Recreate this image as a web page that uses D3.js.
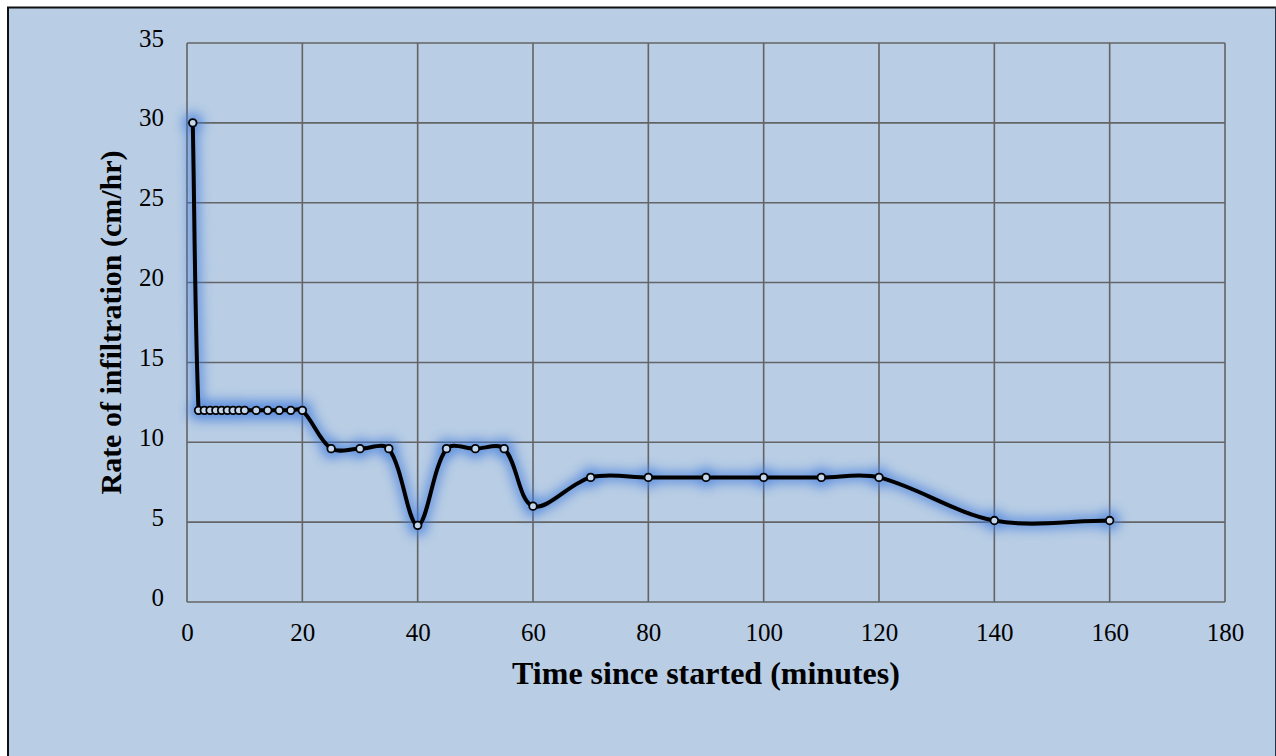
<!DOCTYPE html>
<html>
<head>
<meta charset="utf-8">
<script src="https://cdn.jsdelivr.net/npm/d3@7"></script>
<style>
  html, body { margin: 0; padding: 0; background: #ffffff; }
  svg { display: block; }
</style>
</head>
<body>
<svg id="chart" width="1276" height="756"></svg>
<script>
// Infiltration test readings: elapsed time (minutes) and infiltration rate (cm/hr)
const timeMinutes = [1, 2, 3, 4, 5, 6, 7, 8, 9, 10, 12, 14, 16, 18, 20,
                     25, 30, 35, 40, 45, 50, 55, 60, 70, 80, 90, 100, 110, 120, 140, 160];
const infiltrationRate = [30, 12, 12, 12, 12, 12, 12, 12, 12, 12, 12, 12, 12, 12, 12,
                          9.6, 9.6, 9.6, 4.8, 9.6, 9.6, 9.6, 6, 7.8, 7.8, 7.8, 7.8, 7.8, 7.8, 5.1, 5.1];
const xTicks = [0, 20, 40, 60, 80, 100, 120, 140, 160, 180];
const yTicks = [0, 5, 10, 15, 20, 25, 30, 35];
const xTitle = "Time since started (minutes)";
const yTitle = "Rate of infiltration (cm/hr)";

const data = timeMinutes.map((t, i) => ({ t, r: infiltrationRate[i] }));

const svg = d3.select("#chart");
const W = 1276, H = 756;
const plot = { left: 187, right: 1225, top: 43, bottom: 602 };
const font = "'Liberation Serif', 'Times New Roman', serif";
const bg = "#b9cde4";

// chart area background and frame
svg.append("rect")
  .attr("x", 8).attr("y", 7.5).attr("width", W - 8 + 10).attr("height", H)
  .attr("fill", bg).attr("stroke", "#111").attr("stroke-width", 2);
svg.append("rect")
  .attr("x", 1275).attr("y", 7).attr("width", 2).attr("height", H)
  .attr("fill", "#2a3440");

const x = d3.scaleLinear().domain([0, 180]).range([plot.left, plot.right]);
const y = d3.scaleLinear().domain([0, 35]).range([plot.bottom, plot.top]);

// soft glow behind the series
const defs = svg.append("defs");
const glow = defs.append("filter").attr("id", "glow")
  .attr("x", "-20%").attr("y", "-20%").attr("width", "140%").attr("height", "140%");
glow.append("feGaussianBlur").attr("in", "SourceGraphic").attr("stdDeviation", 6);

// grid lines
const grid = svg.append("g");
grid.selectAll("line.h").data(yTicks).join("line")
  .attr("x1", plot.left).attr("x2", plot.right)
  .attr("y1", d => y(d)).attr("y2", d => y(d))
  .attr("stroke", "#646464").attr("stroke-width", 1.6);
grid.selectAll("line.v").data(xTicks).join("line")
  .attr("x1", d => x(d)).attr("x2", d => x(d))
  .attr("y1", plot.top).attr("y2", plot.bottom)
  .attr("stroke", "#646464").attr("stroke-width", 1.6);

// axes (labels only; lines come from the grid)
const xAxis = svg.append("g")
  .attr("transform", `translate(0,${plot.bottom})`)
  .call(d3.axisBottom(x).tickValues(xTicks).tickSize(0).tickPadding(21));
xAxis.select(".domain").remove();
xAxis.selectAll("text").attr("font-family", font).attr("font-size", 25).attr("fill", "#000");

const yAxis = svg.append("g")
  .attr("transform", `translate(${plot.left},0)`)
  .call(d3.axisLeft(y).tickValues(yTicks).tickSize(0).tickPadding(23));
yAxis.select(".domain").remove();
yAxis.selectAll("text").attr("font-family", font).attr("font-size", 25).attr("fill", "#000")
  .attr("dy", "0.12em");

// smoothed line: cubic Bézier segments whose handles follow the neighbouring
// chord, split in proportion to the adjacent segment lengths
function smoothPath(rows) {
  const pts = rows.map(d => [x(d.t), y(d.r)]);
  const k = 1 / 3;
  const dist = (a, b) => Math.hypot(b[0] - a[0], b[1] - a[1]);
  function handle(i, side) {
    const p = pts[i];
    const prev = pts[i - 1] || p, next = pts[i + 1] || p;
    const lp = dist(prev, p), ln = dist(p, next);
    const sum = lp + ln || 1;
    const dx = next[0] - prev[0], dy = next[1] - prev[1];
    const f = side > 0 ? k * ln / sum : -k * lp / sum;
    return [p[0] + dx * f, p[1] + dy * f];
  }
  const path = d3.path();
  path.moveTo(pts[0][0], pts[0][1]);
  for (let i = 0; i < pts.length - 1; i++) {
    const c1 = handle(i, 1), c2 = handle(i + 1, -1);
    path.bezierCurveTo(c1[0], c1[1], c2[0], c2[1], pts[i + 1][0], pts[i + 1][1]);
  }
  return path.toString();
}

const glowLayer = svg.append("g").attr("filter", "url(#glow)").attr("opacity", 0.75);
glowLayer.append("path").datum(data).attr("d", smoothPath)
  .attr("fill", "none").attr("stroke", "#3a78dc").attr("stroke-width", 10)
  .attr("stroke-linejoin", "round");
glowLayer.selectAll("circle").data(data).join("circle")
  .attr("cx", d => x(d.t)).attr("cy", d => y(d.r)).attr("r", 10)
  .attr("fill", "#3a78dc");

svg.append("path").datum(data).attr("d", smoothPath)
  .attr("fill", "none").attr("stroke", "#000").attr("stroke-width", 4)
  .attr("stroke-linejoin", "round");

svg.append("g").selectAll("circle").data(data).join("circle")
  .attr("cx", d => x(d.t)).attr("cy", d => y(d.r)).attr("r", 3.8)
  .attr("fill", "#c4d6ec").attr("stroke", "#000").attr("stroke-width", 1.8);

// axis titles
svg.append("text")
  .attr("x", (plot.left + plot.right) / 2).attr("y", 684)
  .attr("text-anchor", "middle")
  .attr("font-family", font).attr("font-weight", "bold").attr("font-size", 32)
  .text(xTitle);

svg.append("text")
  .attr("transform", `translate(121,${(plot.top + plot.bottom) / 2}) rotate(-90)`)
  .attr("text-anchor", "middle")
  .attr("font-family", font).attr("font-weight", "bold").attr("font-size", 30)
  .text(yTitle);
</script>
</body>
</html>
